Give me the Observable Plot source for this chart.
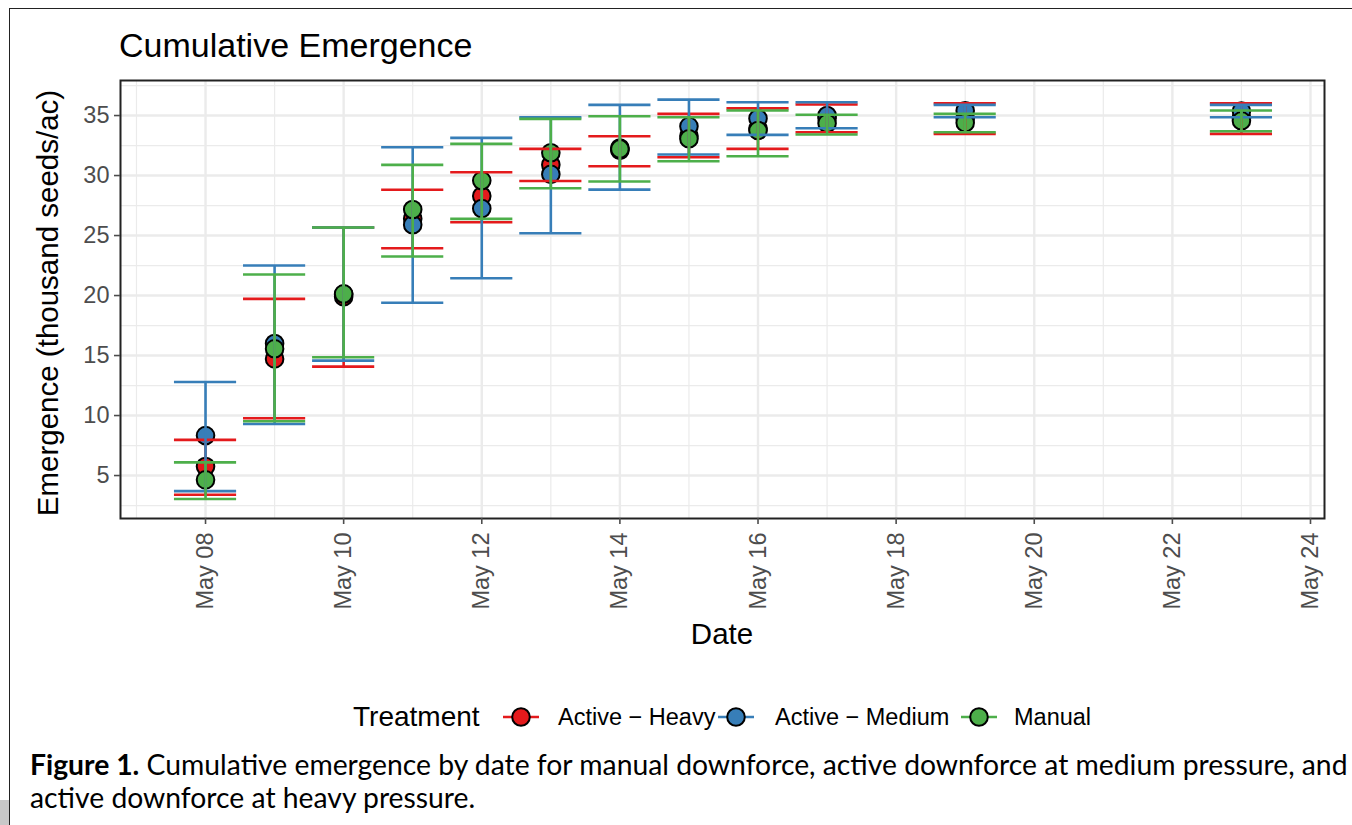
<!DOCTYPE html>
<html>
<head>
<meta charset="utf-8">
<script src="https://cdn.jsdelivr.net/npm/d3@7"></script>
<script src="https://cdn.jsdelivr.net/npm/@observablehq/plot@0.6"></script>
<style>
  html, body { margin: 0; padding: 0; background: #fff; }
  body { width: 1352px; height: 825px; overflow: hidden; position: relative;
         font-family: "Liberation Sans", Arial, sans-serif; color: #000; }
  .abs { position: absolute; white-space: nowrap; line-height: 1; }
  #frame { position: absolute; left: 9px; top: 8px; width: 1350px; height: 830px;
           border-left: 1.5px solid #222; border-top: 1.5px solid #222; }
  #corner { position: absolute; left: 0; top: 800px; width: 9px; height: 25px; background: #c8c8c8; }
  #chart { position: absolute; left: 0; top: 70px; }
  #title { left: 119px; top: 28px; font-size: 34px; }
  #xtitle { left: 722px; top: 619px; font-size: 29.5px; transform: translateX(-50%); }
  #ytitle { left: 48px; top: 303px; font-size: 29.5px; transform: translate(-50%, -50%) rotate(-90deg); }
  #legend-title { left: 353px; top: 703px; font-size: 28px; }
  .leg-label { top: 706px; font-size: 23.5px; }
  #caption { left: 30px; top: 748px; font-family: Lato, "Open Sans", sans-serif; font-size: 28.3px;
             line-height: 33px; white-space: nowrap; color: #000; }
</style>
</head>
<body>
<div id="frame"></div>
<div id="corner"></div>
<div id="title" class="abs">Cumulative Emergence</div>
<div id="chart"></div>
<div id="xtitle" class="abs">Date</div>
<div id="ytitle" class="abs">Emergence (thousand seeds/ac)</div>
<div id="legend"></div>
<div id="caption" class="abs"><b>Figure 1.</b> Cumulative emergence by date for manual downforce, active downforce at medium pressure, and<br>active downforce at heavy pressure.</div>
<script>
// ---------------- data ----------------
const dates = ["2023-05-08","2023-05-09","2023-05-10","2023-05-11","2023-05-12","2023-05-13",
               "2023-05-14","2023-05-15","2023-05-16","2023-05-17","2023-05-19","2023-05-23"];
const treatments = ["Active − Heavy", "Active − Medium", "Manual"];
const colors = ["#E41A1C", "#377EB8", "#4DAF4A"];

const heavyMean  = [5.75, 14.72, 19.9, 26.4, 28.3, 30.9, 32.1, 33.3, 33.9, 34.8, 34.75, 34.75];
const heavyLow   = [3.4, 9.78, 14.08, 23.94, 26.11, 29.55, 30.78, 31.53, 32.22, 33.61, 33.47, 33.47];
const heavyHigh  = [7.97, 19.72, 25.67, 28.81, 30.28, 32.22, 33.28, 35.14, 35.6, 35.92, 36.03, 36.03];

const mediumMean = [8.33, 16.0, 20.1, 25.9, 27.25, 30.1, 32.3, 34.1, 34.75, 35.0, 35.4, 35.37];
const mediumLow  = [3.7, 9.3, 14.58, 19.4, 21.44, 25.19, 28.83, 31.75, 33.39, 33.94, 34.86, 34.86];
const mediumHigh = [12.8, 22.5, 25.67, 32.36, 33.14, 34.86, 35.89, 36.33, 36.11, 36.11, 35.89, 35.89];

const manualMean = [4.64, 15.56, 20.14, 27.17, 29.58, 31.9, 32.22, 33.06, 33.75, 34.35, 34.4, 34.56];
const manualLow  = [3.05, 9.53, 14.86, 23.25, 26.39, 28.94, 29.5, 31.19, 31.61, 33.42, 33.61, 33.69];
const manualHigh = [6.1, 21.75, 25.67, 30.89, 32.64, 34.72, 34.94, 34.86, 35.42, 35.06, 35.14, 35.42];

const xTicks = ["2023-05-08","2023-05-10","2023-05-12","2023-05-14","2023-05-16",
                "2023-05-18","2023-05-20","2023-05-22","2023-05-24"];
const xMinorTicks = ["2023-05-07","2023-05-09","2023-05-11","2023-05-13","2023-05-15",
                     "2023-05-17","2023-05-19","2023-05-21","2023-05-23"];
const yTicks = [5, 10, 15, 20, 25, 30, 35];
const yMinorTicks = [2.5, 7.5, 12.5, 17.5, 22.5, 27.5, 32.5, 37.5];
const xDomain = ["2023-05-06T18:27:00Z", "2023-05-24T04:52:00Z"];
const yDomain = [1.42, 37.92];

// ---------------- build ----------------
const parse = s => new Date(s.length === 10 ? s + "T00:00:00Z" : s);
const series = [
  [heavyMean, heavyLow, heavyHigh],
  [mediumMean, mediumLow, mediumHigh],
  [manualMean, manualLow, manualHigh]
];
const rows = [];
treatments.forEach((t, i) => dates.forEach((d, j) => rows.push({
  treatment: t, date: parse(d), mean: series[i][0][j], lo: series[i][1][j], hi: series[i][2][j]
})));
const capHalf = 0.45 * 864e5;
const capL = d => new Date(+d.date - capHalf);
const capR = d => new Date(+d.date + capHalf);

const errMarks = treatments.flatMap(t => {
  const sub = rows.filter(r => r.treatment === t);
  const o = {stroke: "treatment", strokeWidth: 2.6};
  return [
    Plot.ruleX(sub, {x: "date", y1: "lo", y2: "hi", ...o}),
    Plot.ruleY(sub, {y: "lo", x1: capL, x2: capR, ...o}),
    Plot.ruleY(sub, {y: "hi", x1: capL, x2: capR, ...o})
  ];
});

const chart = Plot.plot({
  width: 1352, height: 583,
  marginLeft: 120, marginRight: 28, marginTop: 10, marginBottom: 135,
  style: {fontFamily: '"Liberation Sans", Arial, sans-serif', background: "transparent", overflow: "visible"},
  x: {type: "utc", domain: xDomain.map(parse)},
  y: {domain: yDomain},
  color: {domain: treatments, range: colors},
  marks: [
    Plot.ruleX(xMinorTicks.map(parse), {stroke: "#EBEBEB", strokeWidth: 1.2}),
    Plot.ruleY(yMinorTicks, {stroke: "#EBEBEB", strokeWidth: 1.2}),
    Plot.ruleX(xTicks.map(parse), {stroke: "#EBEBEB", strokeWidth: 2.4}),
    Plot.ruleY(yTicks, {stroke: "#EBEBEB", strokeWidth: 2.4}),
    Plot.dot(rows, {x: "date", y: "mean", fill: "treatment", stroke: "#000", strokeWidth: 2, r: 8.8}),
    ...errMarks,
    Plot.frame({stroke: "#222", strokeWidth: 2}),
    Plot.axisX({ticks: xTicks.map(parse), tickFormat: d3.utcFormat("%b %d"), tickRotate: -90,
                tickSize: 6, tickPadding: 8, fontSize: 23.5, color: "#4D4D4D", strokeWidth: 1.6, label: null}),
    Plot.axisY({ticks: yTicks, tickSize: 6, tickPadding: 5, fontSize: 23.5, color: "#4D4D4D",
                strokeWidth: 1.6, label: null})
  ]
});
document.getElementById("chart").appendChild(chart);

// ---------------- legend ----------------
const legend = document.getElementById("legend");
const lt = document.createElement("div");
lt.className = "abs"; lt.id = "legend-title"; lt.textContent = "Treatment";
legend.appendChild(lt);
const keyX = [521, 736, 979];
const labelX = [558, 775, 1014];
treatments.forEach((t, i) => {
  const svg = d3.create("svg").attr("width", 40).attr("height", 30)
    .style("position", "absolute").style("left", (keyX[i] - 20) + "px").style("top", "702px");
  svg.append("line").attr("x1", 2).attr("x2", 38).attr("y1", 15).attr("y2", 15)
    .attr("stroke", colors[i]).attr("stroke-width", 2.6);
  svg.append("circle").attr("cx", 20).attr("cy", 15).attr("r", 8.8)
    .attr("fill", colors[i]).attr("stroke", "#000").attr("stroke-width", 2);
  legend.appendChild(svg.node());
  const lab = document.createElement("div");
  lab.className = "abs leg-label"; lab.style.left = labelX[i] + "px"; lab.textContent = t;
  legend.appendChild(lab);
});
</script>
</body>
</html>
